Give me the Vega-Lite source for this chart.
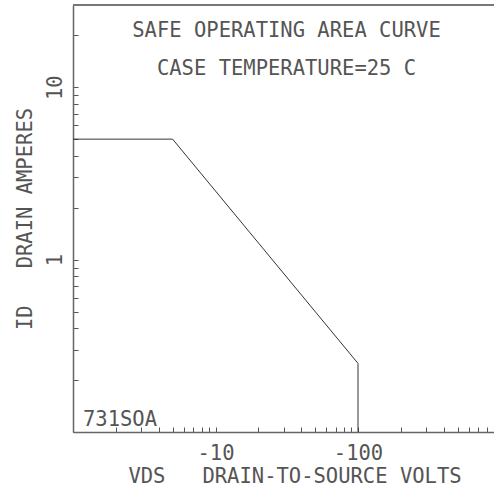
{
  "$schema": "https://vega.github.io/schema/vega-lite/v6.json",
  "width": 421,
  "height": 427,
  "autosize": {"type": "none"},
  "padding": {"left": 73, "top": 5, "right": 0, "bottom": 59},
  "background": "white",
  "view": {"stroke": null},
  "config": {"view": {"stroke": null}, "font": "DejaVu Sans Mono"},
  "layer": [
    {
      "data": {"values": [
        {"pt": 1, "vds": -1, "id": 5},
        {"pt": 2, "vds": -5, "id": 5},
        {"pt": 3, "vds": -100, "id": 0.25},
        {"pt": 4, "vds": -100, "id": 0.1}
      ]},
      "mark": {"type": "line", "color": "#333", "strokeWidth": 1},
      "encoding": {
        "x": {"field": "vds", "type": "quantitative",
          "scale": {"type": "log", "domain": [-1, -900]},
          "axis": {
            "values": [-1,-2,-3,-4,-5,-6,-7,-8,-9,-10,-20,-30,-40,-50,-60,-70,-80,-90,-100,-200,-300,-400,-500,-600,-700,-800],
            "labelExpr": "datum.value == -10 ? '-10' : datum.value == -100 ? '-100' : ''",
            "labelOverlap": false, "labelFlush": false,
            "grid": false,
            "tickSize": -5, "tickColor": "#555", "tickWidth": 1,
            "domainColor": "#666", "domainWidth": 1.5,
            "labelFont": "DejaVu Sans Mono", "labelFontSize": 20.5, "labelColor": "#555",
            "labelPadding": 26, "labelBaseline": "middle",
            "title": "VDS\u00a0\u00a0\u00a0DRAIN-TO-SOURCE VOLTS",
            "titleFont": "DejaVu Sans Mono", "titleFontSize": 20.5, "titleFontWeight": "normal", "titleColor": "#555",
            "titleX": 221.5, "titleY": 44, "titleBaseline": "middle", "titleAlign": "center"
          }
        },
        "y": {"field": "id", "type": "quantitative",
          "scale": {"type": "log", "domain": [0.1, 30]},
          "axis": {
            "values": [0.2,0.3,0.4,0.5,0.6,0.7,0.8,0.9,1,2,3,4,5,6,7,8,9,10,20],
            "labelExpr": "datum.value == 1 ? '1' : datum.value == 10 ? '10' : ''",
            "labelOverlap": false, "labelFlush": false,
            "grid": false,
            "tickSize": -5, "tickColor": "#555", "tickWidth": 1,
            "domainColor": "#666", "domainWidth": 1.5,
            "labelFont": "DejaVu Sans Mono", "labelFontSize": 20.5, "labelColor": "#555",
            "labelAngle": 270, "labelAlign": "center", "labelBaseline": "middle", "labelPadding": 23,
            "title": "ID\u00a0\u00a0\u00a0DRAIN AMPERES",
            "titleFont": "DejaVu Sans Mono", "titleFontSize": 20.5, "titleFontWeight": "normal", "titleColor": "#555",
            "titleAngle": 270, "titleX": -48, "titleY": 213.5, "titleBaseline": "middle", "titleAlign": "center"
          }
        },
        "order": {"field": "pt", "type": "quantitative"}
      }
    },
    {
      "data": {"values": [{"id": 30}]},
      "mark": {"type": "rule", "color": "#777", "strokeWidth": 2},
      "encoding": {
        "y": {"field": "id", "type": "quantitative", "scale": {"type": "log", "domain": [0.1, 30]}}
      }
    },
    {
      "data": {"values": [
        {"vds": -31.5, "id": 21.2, "label": "SAFE OPERATING AREA CURVE"},
        {"vds": -31.5, "id": 12.8, "label": "CASE TEMPERATURE=25 C"}
      ]},
      "mark": {"type": "text", "align": "center", "baseline": "middle", "font": "DejaVu Sans Mono", "fontSize": 20.5, "color": "#555"},
      "encoding": {
        "x": {"field": "vds", "type": "quantitative", "scale": {"type": "log", "domain": [-1, -900]}},
        "y": {"field": "id", "type": "quantitative", "scale": {"type": "log", "domain": [0.1, 30]}},
        "text": {"field": "label"}
      }
    },
    {
      "data": {"values": [
        {"vds": -1.175, "id": 0.117, "label": "731SOA"}
      ]},
      "mark": {"type": "text", "align": "left", "baseline": "middle", "font": "DejaVu Sans Mono", "fontSize": 20.5, "color": "#555"},
      "encoding": {
        "x": {"field": "vds", "type": "quantitative", "scale": {"type": "log", "domain": [-1, -900]}},
        "y": {"field": "id", "type": "quantitative", "scale": {"type": "log", "domain": [0.1, 30]}},
        "text": {"field": "label"}
      }
    }
  ]
}
